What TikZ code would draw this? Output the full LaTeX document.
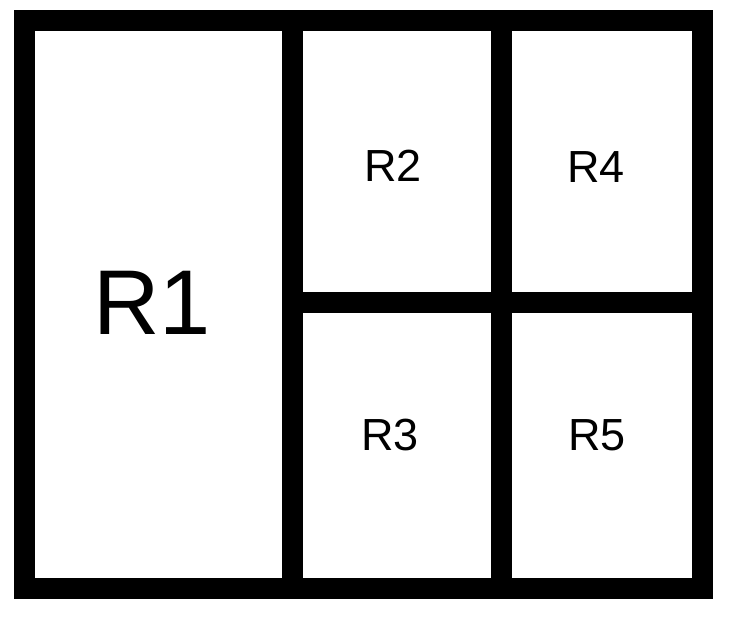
\documentclass[tikz,border=0pt]{standalone}
\usepackage{fontspec}
\setmainfont{Liberation Sans}
\begin{document}
\begin{tikzpicture}[x=1pt,y=-1pt,
  wall/.style={line width=21pt, draw=black},
  big/.style={font=\fontsize{92}{92}\selectfont, inner sep=0pt},
  small/.style={font=\fontsize{45}{45}\selectfont, inner sep=0pt}]
\useasboundingbox[fill=white] (0,0) rectangle (743,618);
\coordinate (tl) at (24,20.5);
\coordinate (br) at (702,588);
\coordinate (v1t) at (292.5,20.5);
\coordinate (v1b) at (292.5,588);
\coordinate (v2t) at (501.5,20.5);
\coordinate (v2b) at (501.5,588);
\coordinate (hl) at (292.5,302.5);
\coordinate (hr) at (702,302.5);
\draw[wall] (tl) rectangle (br);
\draw[wall] (v1t) -- (v1b);
\draw[wall] (v2t) -- (v2b);
\draw[wall] (hl) -- (hr);
\node[big] (r1) at (152,303) {R1};
\node[small] (r2) at (393,166) {R2};
\node[small] (r3) at (390,435) {R3};
\node[small] (r4) at (596,167) {R4};
\node[small] (r5) at (597,435) {R5};
\end{tikzpicture}
\end{document}
